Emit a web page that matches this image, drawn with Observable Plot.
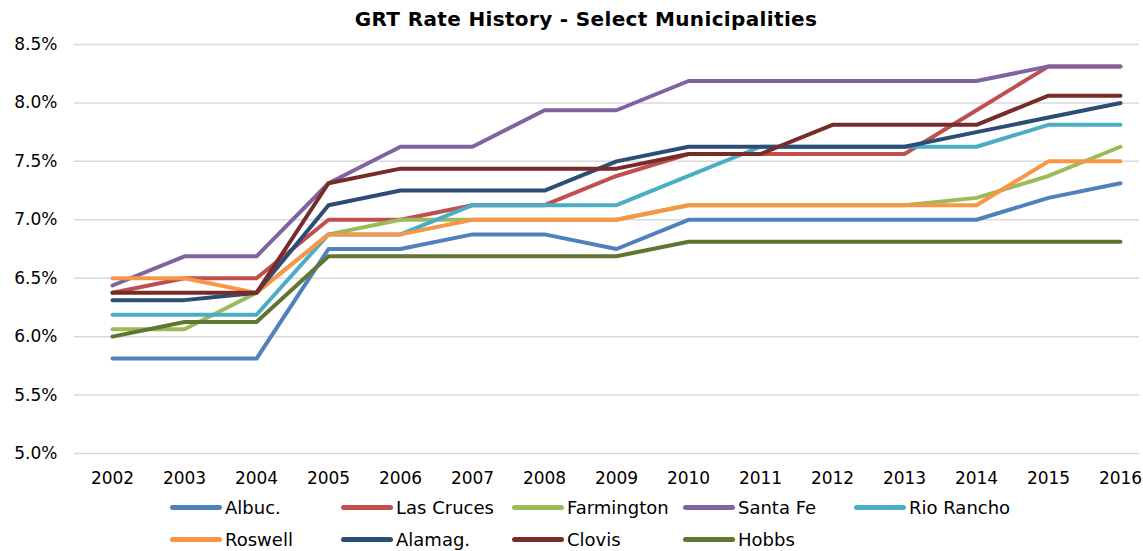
<!DOCTYPE html>
<html><head><meta charset="utf-8">
<script src="https://cdn.jsdelivr.net/npm/d3@7"></script>
<script src="https://cdn.jsdelivr.net/npm/@observablehq/plot@0.6"></script>
<style>
body{margin:0;background:#fff;}
#wrap{position:relative;width:1143px;height:551px;overflow:hidden;font-family:"DejaVu Sans",sans-serif;background:#fff;}
#title{position:absolute;top:6px;left:586px;transform:translateX(-50%);white-space:nowrap;font-weight:bold;font-size:20px;letter-spacing:0.35px;line-height:26px;color:#000;}
#chart{position:absolute;top:0;left:0;}
.leg{position:absolute;display:flex;align-items:center;height:22px;font-size:18px;color:#000;white-space:nowrap;}
.sw{width:52px;height:5px;border-radius:3px;margin-right:3px;}
</style></head>
<body>
<div id="wrap">
  <div id="chart"></div>
  <div id="title">GRT Rate History - Select Municipalities</div>
  <div id="legend"></div>
</div>
<script>
const years = [2002,2003,2004,2005,2006,2007,2008,2009,2010,2011,2012,2013,2014,2015,2016];
const names = ["Albuc.","Las Cruces","Farmington","Santa Fe","Rio Rancho","Roswell","Alamag.","Clovis","Hobbs"];
const colors = ["#4F81BD","#C0504D","#9BBB59","#8064A2","#4BACC6","#F79646","#2C4D75","#772C2A","#5F7530"];
const yTicks = [5.0,5.5,6.0,6.5,7.0,7.5,8.0,8.5];

const albuc      = [5.8125,5.8125,5.8125,6.75,6.75,6.875,6.875,6.75,7.0,7.0,7.0,7.0,7.0,7.1875,7.3125];
const lasCruces  = [6.375,6.5,6.5,7.0,7.0,7.125,7.125,7.375,7.5625,7.5625,7.5625,7.5625,7.9375,8.3125,8.3125];
const farmington = [6.0625,6.0625,6.375,6.875,7.0,7.0,7.0,7.0,7.125,7.125,7.125,7.125,7.1875,7.375,7.625];
const santaFe    = [6.4375,6.6875,6.6875,7.3125,7.625,7.625,7.9375,7.9375,8.1875,8.1875,8.1875,8.1875,8.1875,8.3125,8.3125];
const rioRancho  = [6.1875,6.1875,6.1875,6.875,6.875,7.125,7.125,7.125,7.375,7.625,7.625,7.625,7.625,7.8125,7.8125];
const roswell    = [6.5,6.5,6.375,6.875,6.875,7.0,7.0,7.0,7.125,7.125,7.125,7.125,7.125,7.5,7.5];
const alamag     = [6.3125,6.3125,6.375,7.125,7.25,7.25,7.25,7.5,7.625,7.625,7.625,7.625,7.75,7.875,8.0];
const clovis     = [6.375,6.375,6.375,7.3125,7.4375,7.4375,7.4375,7.4375,7.5625,7.5625,7.8125,7.8125,7.8125,8.0625,8.0625];
const hobbs      = [6.0,6.125,6.125,6.6875,6.6875,6.6875,6.6875,6.6875,6.8125,6.8125,6.8125,6.8125,6.8125,6.8125,6.8125];

const seriesValues = [albuc,lasCruces,farmington,santaFe,rioRancho,roswell,alamag,clovis,hobbs];
const rows = names.flatMap((n,i) => years.map((yr,j) => ({name:n, year:yr, rate:seriesValues[i][j]})));

const chart = Plot.plot({
  width:1143, height:490,
  marginLeft:74, marginRight:4, marginTop:44, marginBottom:37,
  style:{fontFamily:"DejaVu Sans, sans-serif", fontSize:"17px", color:"#000", background:"#fff"},
  x:{type:"point", domain:years, padding:0, insetLeft:36, insetRight:18, label:null, tickSize:0, tickPadding:18, tickFormat:d => String(d)},
  y:{domain:[5,8.5], ticks:yTicks, tickFormat:d => d.toFixed(1)+"%", label:null, tickSize:0, tickPadding:17},
  color:{domain:names, range:colors},
  marks:[
    Plot.ruleY(yTicks, {stroke:"#D9D9D9", strokeWidth:1.5}),
    Plot.line(rows, {x:"year", y:"rate", z:"name", stroke:"name", strokeWidth:4, strokeLinejoin:"round", strokeLinecap:"round"})
  ]
});
document.getElementById("chart").appendChild(chart);

const leg = document.getElementById("legend");
names.forEach((n,i) => {
  const col = i % 5, row = Math.floor(i / 5);
  const d = document.createElement("div");
  d.className = "leg";
  d.style.left = (170 + col*171) + "px";
  d.style.top = (507 + row*32 - 11) + "px";
  d.innerHTML = `<span class="sw" style="background:${colors[i]}"></span><span>${n}</span>`;
  leg.appendChild(d);
});
</script>
</body></html>
